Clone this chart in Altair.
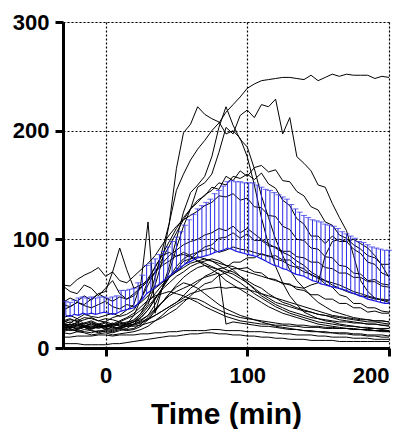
import altair as alt
import pandas as pd

# ---- individual traces (5-min grid) ----
trace_time = list(range(-30, 201, 5))

traces = {
    "s01": [20,22,19,21,20,18,20,22,21,23, 26,32,45,65,90,115,145,160,173,183, 191,200,207,217,224,231,239,243,246,247, 248,249,249,248,247,251,246,249,252,250, 252,251,251,251,248,250,249],
    "s02": [25,23,27,22,24,21,23,20,22,24, 25,32,40,58,80,115,165,198,206,222, 215,211,208,197,200,193,176,150,120,95, 75,60,48,40,33,30,27,25,24,22, 21,20,19,18,18,17,16],
    "s03": [22,20,24,21,19,22,20,21,24,22, 24,28,35,45,55,70,92,112,128,148, 152,160,180,203,197,214,219,212,224,222, 229,197,212,176,170,163,150,148,133,120, 108,85,62,52,46,44,44],
    "s04": [18,20,17,19,18,20,17,19,18,20, 22,25,30,40,55,75,100,125,143,150, 158,176,203,222,205,192,185,165,140,120, 100,85,72,62,55,48,42,38,34,32, 30,28,27,26,25,25,24],
    "s05": [28,30,27,31,29,28,30,32,29,31, 35,45,58,70,82,94,106,118,128,136, 140,148,146,158,154,163,158,166,168,162, 164,154,153,144,140,130,127,116,113,104, 101,95,91,85,83,77,77],
    "s06": [42,46,43,48,44,50,46,43,47,45, 50,56,64,74,86,98,110,120,128,134, 141,145,152,150,158,156,160,155,161,151, 147,136,131,119,114,103,103,96,103,98, 98,91,87,79,77,69,66],
    "s07": [58,57,63,67,70,74,66,70,62,60, 66,72,78,85,95,104,112,118,122,126, 131,134,140,139,142,136,138,130,129,122, 121,112,109,100,99,92,91,84,83,76, 75,69,68,62,63,59,58],
    "s08": [57,52,50,58,55,48,55,62,50,45, 48,55,62,70,78,85,90,95,98,100, 104,106,110,108,112,106,110,105,100,96, 92,88,85,80,76,70,66,62,58,55, 52,50,48,47,45,45,44],
    "s09": [35,38,42,40,45,50,52,70,92,72, 55,58,62,70,76,80,85,86,84,80, 78,75,72,70,68,64,60,55,50,46, 42,40,38,36,34,33,31,30,29,28, 27,26,25,24,24,23,22],
    "s10": [24,26,25,28,27,25,24,28,30,35, 40,60,116,32,55,65,72,80,82,84, 82,80,76,72,70,66,62,58,55,50, 46,42,40,37,35,33,31,30,28,26, 25,24,23,22,22,21,20],
    "s11": [20,18,21,19,17,20,18,17,19,22, 30,45,62,75,85,88,84,88,85,80, 76,72,68,62,58,54,50,46,42,38, 35,32,30,28,26,24,22,21,20,19, 18,18,17,17,16,16,15],
    "s12": [15,17,16,15,14,16,15,14,16,18, 22,28,35,45,55,65,75,82,86,88, 90,92,88,90,93,91,90,88,86,85, 82,80,76,74,70,68,64,62,60,58, 55,52,50,48,46,44,42],
    "s13": [22,21,23,20,22,19,21,23,20,22, 24,26,30,36,42,48,52,55,58,62, 65,67,69,22,24,23,22,21,20,20, 19,18,17,17,16,16,15,15,14,14, 14,13,13,12,12,12,11],
    "s14": [40,38,42,39,37,40,43,38,36,40, 38,42,48,55,60,66,70,76,82,88, 93,95,101,102,106,101,105,99,99,94, 93,89,89,84,83,79,79,74,73,69, 69,65,65,61,61,57,56],
    "s15": [18,16,17,19,16,15,17,16,18,17, 18,22,28,35,42,50,58,65,70,74, 76,74,72,68,64,60,55,50,46,42, 38,35,32,30,28,26,24,23,22,21, 20,20,19,19,18,18,18],
    "s16": [16,18,15,17,16,14,16,15,17,16, 17,20,26,34,42,50,56,60,58,55, 50,45,40,36,33,30,28,26,24,22, 20,19,18,17,16,15,15,14,14,13, 13,12,12,11,11,10,10],
    "s17": [20,22,20,23,21,22,20,21,23,21, 22,24,27,30,34,38,42,48,55,60, 66,69,73,74,79,79,83,83,87,84, 85,81,81,75,73,67,65,59,56,49, 47,41,41,37,37,34,33],
    "s18": [25,27,24,26,28,25,27,26,24,27, 30,35,42,50,58,65,70,74,78,80, 82,80,78,76,75,72,70,68,66,64, 62,60,58,56,55,58,60,85,98,100, 98,100,96,92,85,76,65],
    "s19": [14,13,15,14,12,13,14,12,13,14, 15,17,20,25,30,36,40,44,46,45, 42,38,35,32,30,28,27,26,25,24, 23,22,22,21,21,20,20,19,19,18, 18,17,17,16,16,15,15],
    "s20": [19,20,18,20,19,21,19,20,18,20, 21,23,26,30,34,38,42,46,50,52, 54,55,56,55,56,55,54,52,50,48, 46,44,42,40,38,36,34,32,30,29, 28,27,26,26,25,25,24],
    "s21": [17,19,18,20,18,19,21,18,19,20, 20,21,23,25,28,32,36,42,48,54, 59,61,67,69,73,73,74,70,69,64, 63,59,59,54,53,49,49,45,45,41, 41,37,37,33,34,32,32],
    "s22": [4,4,4,3,3,3,3,4,4,5, 6,7,8,9,10,11,11,12,13,13, 14,14,13,13,12,12,11,11,10,10, 9,9,8,8,8,7,7,7,7,6, 6,6,6,6,6,6,6],
    "s23": [10,10,11,11,11,12,12,11,12,12, 12,13,13,14,14,15,15,16,16,16, 16,17,17,16,16,16,15,15,15,14, 14,13,13,12,12,12,11,11,10,10, 10,9,9,9,8,8,8],
    "s24": [22,24,21,23,25,22,24,22,25,28, 32,38,44,48,50,52,50,48,45,42, 38,35,32,29,27,25,24,23,22,22, 21,21,20,20,19,19,19,18,18,18, 18,17,17,17,16,16,16],
    "s25": [21,19,22,20,23,21,19,22,20,21, 24,30,38,46,54,60,66,70,75,78, 80,82,80,76,72,66,60,54,48,44, 40,37,34,32,30,28,27,26,25,24, 24,23,23,22,22,21,21],
}

# ---- mean and mean+SD (3-min grid) ----
mean_time = list(range(-28, 201, 3))
mean_vals = [30,29,31,30,32,31,32,31,32,33,32,31,32,34,35,36,37,41,45,50,
             53,56,59,62,65,68,71,74,77,79,81,83,84,85,86,88,89,90,92,91,
             89,88,87,86,85,84,82,80,78,76,75,73,72,70,68,67,66,64,62,61,
             59,58,57,56,55,54,53,51,50,48,47,45,44,43,42,41,41]
upper_vals = [43,42,44,46,47,46,47,46,47,47,46,47,48,53,53,54,55,60,67,76,
              78,82,86,89,93,98,102,107,113,118,123,128,131,134,137,142,145,149,153,154,
              153,153,152,152,152,150,148,146,145,143,141,139,137,132,128,125,122,120,118,117,
              116,114,113,112,110,107,105,103,101,98,97,95,93,92,91,90,90]

x_ticks = [0, 100, 200]
y_ticks = [0, 100, 200, 300]

rows = []
for name, vals in traces.items():
    for t, v in zip(trace_time, vals):
        rows.append({"t": t, "v": v, "id": name})
df_tr = pd.DataFrame(rows)
df_m = pd.DataFrame({"t": mean_time, "mean": mean_vals, "upper": upper_vals})

FONT = "Liberation Sans"
xscale = alt.Scale(domain=[-30, 200], nice=False, zero=False)
yscale = alt.Scale(domain=[0, 300], nice=False)

xaxis = alt.Axis(values=x_ticks, title="Time (min)", labelFont=FONT, labelFontSize=22,
                 labelFontWeight="bold", labelColor="black", labelPadding=9,
                 tickSize=8, tickWidth=3, tickColor="black",
                 domainColor="black", domainWidth=3,
                 grid=True, gridColor="black", gridDash=[2, 2], gridWidth=1.2,
                 titleFont=FONT, titleFontSize=30, titleFontWeight="bold",
                 titleColor="black", titlePadding=13)
yaxis = alt.Axis(values=y_ticks, title=None, labelFont=FONT, labelFontSize=22,
                 labelFontWeight="bold", labelColor="black", labelPadding=6,
                 tickSize=8, tickWidth=3, tickColor="black",
                 domainColor="black", domainWidth=3,
                 grid=True, gridColor="black", gridDash=[2, 2], gridWidth=1.2)

lines = alt.Chart(df_tr).mark_line(color="black", strokeWidth=1, clip=True).encode(
    x=alt.X("t:Q", scale=xscale, axis=xaxis),
    y=alt.Y("v:Q", scale=yscale, axis=yaxis),
    detail="id:N",
)

base_m = alt.Chart(df_m)
bars = base_m.mark_rule(color="#2a2ae6", strokeWidth=1).encode(
    x=alt.X("t:Q", scale=xscale),
    y=alt.Y("mean:Q", scale=yscale),
    y2="upper:Q",
)
caps = base_m.mark_tick(color="#2a2ae6", orient="horizontal", size=6, thickness=1).encode(
    x=alt.X("t:Q", scale=xscale),
    y=alt.Y("upper:Q", scale=yscale),
)
mean_line = base_m.mark_line(color="#1a1ae0", strokeWidth=1.2).encode(
    x=alt.X("t:Q", scale=xscale),
    y=alt.Y("mean:Q", scale=yscale),
)

chart = alt.layer(lines, bars, caps, mean_line).properties(
    width=326, height=326,
    autosize=alt.AutoSizeParams(type="none"),
    padding={"left": 55, "top": 14, "right": 12, "bottom": 81},
).configure_view(stroke="black", strokeWidth=3).configure(background="white")

chart.save("out.html", embed_options={"renderer": "svg", "actions": False})
